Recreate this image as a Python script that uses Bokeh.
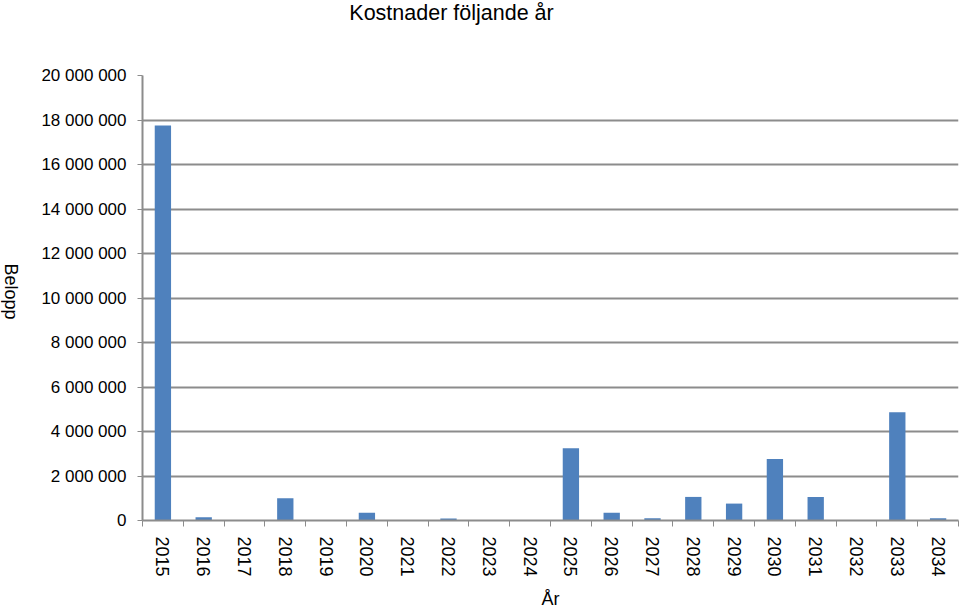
import math
from bokeh.plotting import figure
from bokeh.models import FixedTicker, ColumnDataSource, Range1d, Label
from bokeh.layouts import row, column
from bokeh.embed import file_html
from bokeh.resources import INLINE

years = [str(y) for y in range(2015, 2035)]
values = [17750000, 150000, 0, 1000000, 0, 350000, 20000, 90000, 0, 20000,
          3250000, 350000, 100000, 1060000, 760000, 2760000, 1060000, 10000, 4870000, 100000]
y_ticks = [0, 2000000, 4000000, 6000000, 8000000, 10000000, 12000000, 14000000, 16000000, 18000000, 20000000]
y_tick_labels = ["0", "2 000 000", "4 000 000", "6 000 000", "8 000 000", "10 000 000",
                 "12 000 000", "14 000 000", "16 000 000", "18 000 000", "20 000 000"]
y_max = 20000000

FONT = "Liberation Sans"
GRID = "#8c8c8c"

W, H = 960, 611
TOP_H = 30          # strip holding the chart title
SIDE_W = 20         # strip holding the y axis title
MAIN_H = H - TOP_H

xpos = list(range(len(years)))
src = ColumnDataSource(dict(x=xpos, top=values, year=years))


def strip(w, h):
    f = figure(width=w, height=h, output_backend="svg", toolbar_location=None,
               x_range=Range1d(0, w), y_range=Range1d(0, h), min_border=0)
    f.outline_line_color = None
    f.axis.visible = False
    f.grid.visible = False
    return f


top = strip(W, TOP_H)
top.add_layout(Label(x=451, y=TOP_H - 12, text="Kostnader följande år",
                     text_font=FONT, text_font_size="21.5px", text_color="black",
                     text_align="center", text_baseline="middle"))

side = strip(SIDE_W, MAIN_H)
side.add_layout(Label(x=SIDE_W / 2, y=MAIN_H - (312 - TOP_H), angle=-math.pi / 2, text="Belopp",
                      text_font=FONT, text_font_size="18px", text_color="black",
                      text_align="center", text_baseline="middle"))

p = figure(width=W - SIDE_W, height=MAIN_H, output_backend="svg", toolbar_location=None,
           x_range=Range1d(-0.5, len(years) - 0.5), y_range=Range1d(0, y_max),
           min_border_left=142 - SIDE_W, min_border_right=2, min_border_top=75 - TOP_H,
           min_border_bottom=91)
p.outline_line_color = None
p.background_fill_color = "white"
p.border_fill_color = "white"

p.vbar(x="x", top="top", width=0.4, source=src, fill_color="#4f81bd", line_color=None)

# x axis
xa = p.xaxis[0]
xa.ticker = FixedTicker(ticks=xpos, minor_ticks=[i - 0.5 for i in range(len(years) + 1)])
xa.major_label_overrides = {i: y for i, y in enumerate(years)}
xa.major_label_orientation = -math.pi / 2
xa.major_tick_line_color = None
xa.minor_tick_in = 0
xa.minor_tick_out = 6
xa.minor_tick_line_color = GRID
xa.minor_tick_line_width = 1
xa.axis_line_color = GRID
xa.axis_line_width = 2
xa.major_label_text_font = FONT
xa.major_label_text_font_size = "18px"
xa.major_label_text_color = "black"
xa.major_label_standoff = 10
xa.axis_label = "År"
xa.axis_label_text_font = FONT
xa.axis_label_text_font_size = "18px"
xa.axis_label_text_font_style = "normal"
xa.axis_label_text_color = "black"
xa.axis_label_standoff = 9

# y axis
ya = p.yaxis[0]
ya.ticker = FixedTicker(ticks=y_ticks)
ya.major_label_overrides = {t: l for t, l in zip(y_ticks, y_tick_labels)}
ya.minor_tick_line_color = None
ya.major_tick_in = 0
ya.major_tick_out = 5
ya.major_tick_line_color = GRID
ya.axis_line_color = GRID
ya.axis_line_width = 2
ya.major_label_text_font = FONT
ya.major_label_text_font_size = "17px"
ya.major_label_text_color = "black"
ya.major_label_standoff = 11

p.xgrid.grid_line_color = None
p.ygrid.grid_line_color = GRID
p.ygrid.grid_line_width = 2

layout = column(top, row(side, p, spacing=0), spacing=0)
open("out.html", "w").write(file_html(layout, INLINE))
